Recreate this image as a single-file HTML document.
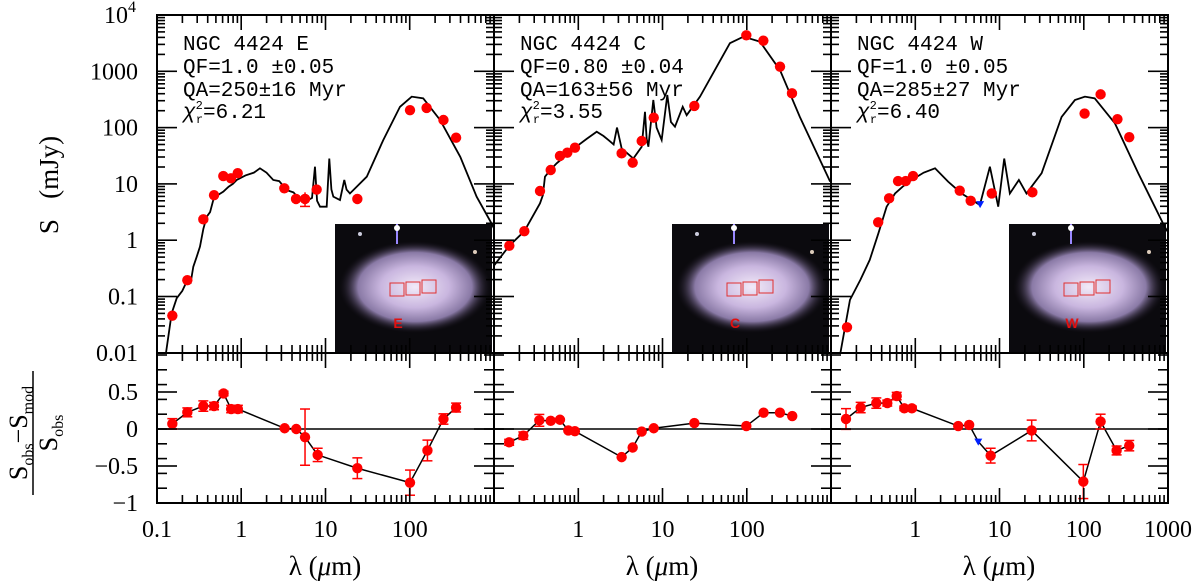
<!DOCTYPE html>
<html><head><meta charset="utf-8"><style>
html,body{margin:0;padding:0;background:#fff;}
svg{display:block;}
text{font-family:"Liberation Serif",serif;fill:#000;}
.mono{font-family:"Liberation Mono",monospace;font-size:21px;}
</style></head><body>
<svg id="fig" width="1200" height="585" viewBox="0 0 1200 585">
<defs>
<radialGradient id="gal" cx="50%" cy="50%" r="50%">
<stop offset="0" stop-color="#f2eaf8"/><stop offset="0.45" stop-color="#c9b6df"/><stop offset="0.75" stop-color="#8a7aa6"/><stop offset="1" stop-color="#1a1420" stop-opacity="0"/>
</radialGradient>
<clipPath id="c0"><rect x="157" y="15" width="337" height="338"/></clipPath>
<clipPath id="c1"><rect x="494" y="15" width="337" height="338"/></clipPath>
<clipPath id="c2"><rect x="831" y="15" width="337" height="338"/></clipPath>
</defs>
<g id="layer"></g>
</svg>
<script>
// ---- data (log10 lambda in um, log10 S in mJy) ----
const panelNames=["NGC 4424 E","NGC 4424 C","NGC 4424 W"];
const qfLabels=["QF=1.0 \u00b10.05","QF=0.80 \u00b10.04","QF=1.0 \u00b10.05"];
const qaLabels=["QA=250\u00b116 Myr","QA=163\u00b156 Myr","QA=285\u00b127 Myr"];
const chiLabels=["6.21","3.55","6.40"];
const regionLetters=["E","C","W"];
const xTickLabels=[["0.1","1","10","100"],["1","10","100"],["1","10","100","1000"]];
const yTopTickLabels=["0.01","0.1","1","10","100","1000"];
const yResTickLabels=["\u22121","\u22120.5","0","0.5"];
const yResTickValues=[-1,-0.5,0,0.5];

const modelLogLamE=[-0.893,-0.826,-0.766,-0.7,-0.64,-0.6,-0.569,-0.53,-0.49,-0.45,-0.41,-0.37,-0.332,-0.3,-0.213,-0.15,-0.1,-0.054,0.05,0.15,0.222,0.3,0.38,0.45,0.54,0.62,0.697,0.796,0.84,0.875,0.9,0.935,1.014,1.045,1.07,1.093,1.172,1.223,1.25,1.29,1.49,1.686,1.884,2.023,2.16,2.36,2.6,2.794,2.97,3.1];
const modelLogSE=[-2.0,-1.3,-1.03,-0.9,-0.71,-0.75,-0.47,-0.3,-0.115,0.2,0.417,0.5,0.714,0.78,0.862,0.95,1.0,1.07,1.15,1.2,1.277,1.2,1.07,1.05,0.89,0.85,0.714,0.714,0.75,1.305,0.7,0.595,0.595,1.45,0.9,0.773,0.714,1.07,0.9,0.83,1.128,1.78,2.37,2.55,2.52,2.135,1.48,0.773,0.3,-0.1];
const modelLogLamC=[-1.0,-0.818,-0.64,-0.454,-0.42,-0.395,-0.33,-0.256,-0.15,-0.039,0.1,0.219,0.3,0.357,0.42,0.46,0.515,0.654,0.753,0.792,0.812,0.832,0.891,0.93,0.99,1.057,1.1,1.148,1.24,1.287,1.445,1.643,1.8,1.96,2.157,2.395,2.63,2.99];
const modelLogSC=[-0.45,-0.098,0.16,0.655,0.8,1.128,1.25,1.366,1.5,1.643,1.8,1.927,1.85,1.78,1.7,2.0,1.63,1.45,1.66,2.28,1.8,1.66,2.49,2.0,1.78,2.58,2.1,2.016,2.37,2.22,2.55,3.08,3.5,3.615,3.526,3.02,2.19,1.04];
const modelLogLamW=[-0.9,-0.775,-0.65,-0.54,-0.4375,-0.34,-0.24,-0.15,-0.043,0.1,0.235,0.39,0.55,0.767,0.886,0.985,1.056,1.123,1.23,1.32,1.5,1.737,1.895,2.014,2.13,2.37,2.647,2.96,3.1];
const modelLogSW=[-2.1,-1.06,-0.7,-0.35,0.122,0.595,0.83,0.95,1.07,1.2,1.277,1.04,0.83,0.625,1.305,0.595,1.45,0.83,1.07,0.83,1.19,2.19,2.49,2.55,2.52,2.076,1.19,0.24,-0.1];

const obsLogLamE=[-0.818,-0.64,-0.45,-0.323,-0.213,-0.122,-0.042,0.511,0.65,0.757,0.895,1.378,2.003,2.2,2.4,2.55];
const obsLogSE=[-1.34,-0.71,0.371,0.8,1.14,1.1,1.19,0.922,0.732,0.732,0.9,0.732,2.31,2.35,2.135,1.82];
const obsLogLamC=[-0.818,-0.64,-0.454,-0.327,-0.217,-0.13,-0.039,0.515,0.646,0.753,0.896,1.378,1.995,2.197,2.395,2.537];
const obsLogSC=[-0.098,0.16,0.874,1.247,1.496,1.554,1.643,1.543,1.377,1.762,2.176,2.384,3.64,3.544,3.082,2.609];
const obsLogLamW=[-0.81,-0.44,-0.31,-0.204,-0.113,-0.026,0.528,0.658,0.908,1.39,2.01,2.2,2.4,2.54];
const obsLogSW=[-1.547,0.318,0.744,1.05,1.05,1.14,0.88,0.7,0.83,0.85,2.25,2.59,2.15,1.83];
const limitLogLamW=[0.77];
const limitLogSW=[0.64];

const resLogLamE=[-0.818,-0.64,-0.45,-0.323,-0.21,-0.12,-0.04,0.515,0.653,0.757,0.907,1.378,2.003,2.21,2.4,2.55];
const resE=[0.07,0.225,0.31,0.31,0.48,0.27,0.27,0.01,0,-0.11,-0.35,-0.53,-0.725,-0.29,0.135,0.29];
const resErrE=[0.07,0.06,0.07,0.05,0.03,0.05,0.05,0.02,0.02,0.38,0.09,0.14,0.17,0.14,0.07,0.06];
const resLogLamC=[-0.82,-0.652,-0.462,-0.327,-0.217,-0.118,-0.04,0.515,0.646,0.753,0.896,1.378,1.995,2.2,2.394,2.54];
const resC=[-0.18,-0.09,0.117,0.11,0.125,-0.02,-0.03,-0.38,-0.25,-0.035,0.01,0.08,0.04,0.22,0.22,0.175];
const resErrC=[0.04,0.05,0.08,0.02,0.02,0.02,0.02,0.01,0.01,0.01,0.01,0.01,0.01,0.01,0.01,0.01];
const resLogLamW=[-0.822,-0.648,-0.462,-0.332,-0.22,-0.13,-0.04,0.51,0.64,0.748,0.895,1.382,1.995,2.2,2.39,2.54];
const resW=[0.135,0.29,0.35,0.35,0.445,0.28,0.28,0.04,0.055,-0.17,-0.36,-0.02,-0.71,0.1,-0.29,-0.225];
const resErrW=[0.14,0.07,0.07,0.04,0.05,0.03,0.03,0.02,0.02,0,0.1,0.14,0.23,0.1,0.06,0.07];
const resLimitIndexW=9;

// ---- layout ----
const X0=[157,494,831], PW=337, TOP=15, MID=353, BOT=503, DEC=84.25;
const sx=(p,l)=>X0[p]+(l+1)*DEC;
const sy=l=>TOP+(4-l)*56.3;
const ry=r=>429-r*74;
const NS="http://www.w3.org/2000/svg";
const layer=document.getElementById('layer');
function mk(tag,attrs,parent){const e=document.createElementNS(NS,tag);for(const k in attrs)e.setAttribute(k,attrs[k]);(parent||layer).appendChild(e);return e;}
// tick as filled rectangle
function vt(g,x,y,len){mk('rect',{x:(x-0.8).toFixed(1),y:(len<0?y+len:y).toFixed(1),width:1.6,height:Math.abs(len),fill:'#000'},g);}
function ht(g,x,y,len){mk('rect',{x:(len<0?x+len:x).toFixed(1),y:(y-0.8).toFixed(1),width:Math.abs(len),height:1.6,fill:'#000'},g);}

const models=[[modelLogLamE,modelLogSE],[modelLogLamC,modelLogSC],[modelLogLamW,modelLogSW]];
const obs=[[obsLogLamE,obsLogSE],[obsLogLamC,obsLogSC],[obsLogLamW,obsLogSW]];
const res=[[resLogLamE,resE,resErrE],[resLogLamC,resC,resErrC],[resLogLamW,resW,resErrW]];

for(let p=0;p<3;p++){
  const g=mk('g',{});
  
  
  const ix=X0[p]+178, iy=224, iw=157, ih=129;
  const ins=mk('g',{},g);
  
  
  mk('rect',{x:ix,y:iy,width:iw,height:ih,fill:'#0b0a0e'},ins);
  mk('ellipse',{cx:ix+80,cy:iy+63,rx:76,ry:46,fill:'url(#gal)'},ins);
  mk('line',{x1:ix+62,y1:iy,x2:ix+62,y2:iy+20,stroke:'#9a88ff','stroke-width':2},ins);
  mk('circle',{cx:ix+62,cy:iy+4,r:3,fill:'#fff'},ins);
  mk('circle',{cx:ix+25,cy:iy+10,r:2,fill:'#ccd'},ins);
  mk('circle',{cx:ix+140,cy:iy+28,r:2,fill:'#dcb'},ins);
  [[55,59],[71,58],[87,56]].forEach(s=>mk('rect',{x:ix+s[0],y:iy+s[1],width:14,height:13,fill:'none',stroke:'#e03030','stroke-width':1},ins));
  const lt=mk('text',{x:ix+63,y:iy+104,'font-size':14,'font-weight':'bold','text-anchor':'middle',style:'fill:#e01010;font-family:Liberation Sans,sans-serif'},ins);
  lt.textContent=regionLetters[p];
  
  
  const [ml,ms]=models[p];
  const mpath=mk('polyline',{points:ml.map((l,i)=>sx(p,l).toFixed(2)+','+sy(ms[i]).toFixed(2)).join(' '),fill:'none',stroke:'#000','stroke-width':1.8,'clip-path':'url(#c'+p+')'},g);
  
  
  const [ol,os]=obs[p];
  ol.forEach((l,i)=>{const c=mk('circle',{cx:sx(p,l),cy:sy(os[i]),r:5.2,fill:'#ff0000'},g);
    
    });
  if(p===0){mk('line',{x1:sx(0,0.757),y1:sy(0.6),x2:sx(0,0.757),y2:sy(0.85),stroke:'#f00','stroke-width':1.5},g);
    mk('line',{x1:sx(0,0.757)-5,y1:sy(0.6),x2:sx(0,0.757)+5,y2:sy(0.6),stroke:'#f00','stroke-width':1.5},g);}
  if(p===2){limitLogLamW.forEach((l,i)=>{const t=mk('polygon',{points:(sx(2,l)-4)+','+(sy(limitLogSW[i])-3)+' '+(sx(2,l)+4)+','+(sy(limitLogSW[i])-3)+' '+sx(2,l)+','+(sy(limitLogSW[i])+4),fill:'#0020ff'},g);
    
    });}
  const [rl,rv,re]=res[p];
  mk('line',{x1:X0[p],y1:ry(0),x2:X0[p]+PW,y2:ry(0),stroke:'#000','stroke-width':1.5},g);
  const rline=mk('polyline',{points:rl.map((l,i)=>sx(p,l).toFixed(2)+','+ry(rv[i]).toFixed(2)).join(' '),fill:'none',stroke:'#000','stroke-width':1.5},g);
  
  
  rl.forEach((l,i)=>{const x=sx(p,l);
    if(p===2&&i===resLimitIndexW){const t=mk('polygon',{points:(x-4)+','+(ry(rv[i])-3)+' '+(x+4)+','+(ry(rv[i])-3)+' '+x+','+(ry(rv[i])+4),fill:'#0020ff'},g);
      
      return;}
    if(re[i]>0.025){mk('line',{x1:x,y1:ry(rv[i]-re[i]),x2:x,y2:ry(rv[i]+re[i]),stroke:'#f00','stroke-width':1.5},g);
      mk('line',{x1:x-5,y1:ry(rv[i]-re[i]),x2:x+5,y2:ry(rv[i]-re[i]),stroke:'#f00','stroke-width':1.5},g);
      mk('line',{x1:x-5,y1:ry(rv[i]+re[i]),x2:x+5,y2:ry(rv[i]+re[i]),stroke:'#f00','stroke-width':1.5},g);}
    const c=mk('circle',{cx:x,cy:ry(rv[i]),r:5.2,fill:'#ff0000'},g);
    
    });
  mk('rect',{x:X0[p],y:TOP,width:PW,height:MID-TOP,fill:'none',stroke:'#000','stroke-width':2},g);
  mk('rect',{x:X0[p],y:MID,width:PW,height:BOT-MID,fill:'none',stroke:'#000','stroke-width':2},g);
  // ticks
  const tg=mk('g',{},g);
  
  
  for(let e=-1;e<3;e++){for(let m=1;m<10;m++){
    if(m===1&&e===-1)continue;
    const x=sx(p,e+Math.log10(m));if(x>X0[p]+PW-1)continue;
    const L=m===1?15:8;
    vt(tg,x,TOP,L);vt(tg,x,MID,-L);vt(tg,x,MID,L);vt(tg,x,BOT,-L);}}
  [X0[p],X0[p]+PW].forEach((x,k)=>{const dir=k===0?1:-1;
    for(let e=-2;e<4;e++){for(let m=1;m<10;m++){const y=sy(e+Math.log10(m));ht(tg,x,y,dir*(m===1?20:8));}}
    ht(tg,x,TOP,dir*20);
    for(let i=-4;i<=5;i++){ht(tg,x,ry(i*0.2),dir*10);}
    [-0.5,0,0.5].forEach(r=>ht(tg,x,ry(r),dir*20));});
  xTickLabels[p].forEach(t=>{const v=Math.log10(parseFloat(t));const tx=mk('text',{x:sx(p,v),y:537,'font-size':24,'text-anchor':'middle'},g);tx.textContent=t;
    
    });
  const xt=mk('text',{x:X0[p]+168,y:575,'font-size':27,'text-anchor':'middle'},g);
  xt.innerHTML='\u03bb  (<tspan font-style="italic">\u03bc</tspan>m)';
  
  
  const tx0=X0[p]+26;
  [panelNames[p],qfLabels[p],qaLabels[p]].forEach((s,i)=>{const t=mk('text',{x:tx0,y:50+i*23,class:'mono'},g);t.textContent=s;
    
    });
  const ct=mk('text',{x:tx0,y:118,class:'mono'},g);
  ct.innerHTML='<tspan font-style="italic">\u03c7</tspan><tspan font-size="12" dy="-9">2</tspan><tspan font-size="12" dx="-7" dy="14">r</tspan><tspan dy="-5">='+chiLabels[p]+'</tspan>';
  
  
}
yTopTickLabels.forEach((t,i)=>{const tx=mk('text',{x:138,y:sy(i-2)+8,'font-size':24,'text-anchor':'end'});tx.textContent=t;
  
  });
const top4=mk('text',{x:104,y:sy(4)+8,'font-size':24});
top4.innerHTML='10<tspan font-size="16" dy="-11">4</tspan>';


yResTickLabels.forEach((t,i)=>{const tx=mk('text',{x:138,y:ry(yResTickValues[i])+8,'font-size':24,'text-anchor':'end'});tx.textContent=t;
  
  });
const yt=mk('text',{x:0,y:0,'font-size':27,'text-anchor':'middle',transform:'translate(58,185) rotate(-90)'});
yt.textContent='S\u2002 (mJy)';


const fr=mk('g',{transform:'translate(33,433) rotate(-90)'});


const nt=mk('text',{x:0,y:-6,'font-size':26,'text-anchor':'middle'},fr);
nt.innerHTML='S<tspan font-size="16" dy="6">obs</tspan><tspan dy="-6">\u2212S</tspan><tspan font-size="16" dy="6">mod</tspan>';
mk('line',{x1:-62,y1:0,x2:62,y2:0,stroke:'#000','stroke-width':1.5},fr);
const dt=mk('text',{x:0,y:24,'font-size':26,'text-anchor':'middle'},fr);
dt.innerHTML='S<tspan font-size="16" dy="6">obs</tspan>';
</script>
</body></html>
